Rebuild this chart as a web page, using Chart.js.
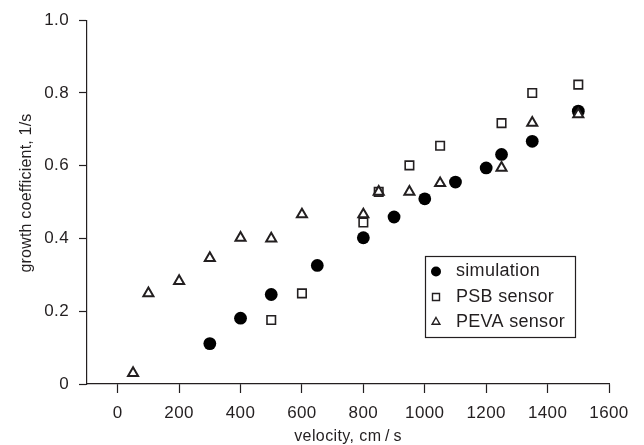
<!DOCTYPE html>
<html><head><meta charset="utf-8">
<script src="https://cdn.jsdelivr.net/npm/chart.js@4/dist/chart.umd.min.js"></script>
<style>html,body{margin:0;padding:0;background:#fff}#wrap{width:644px;height:445px}</style>
</head><body><div id="wrap"><canvas id="c" width="644" height="445"></canvas></div>
<script>
const simVelocity = [300, 400, 500, 650, 800, 900, 1000, 1100, 1200, 1250, 1350, 1500];
const simGrowth   = [0.111, 0.181, 0.246, 0.326, 0.402, 0.459, 0.509, 0.555, 0.594, 0.631, 0.667, 0.750];
const psbVelocity = [500, 600, 800, 850, 950, 1050, 1250, 1350, 1500];
const psbGrowth   = [0.176, 0.249, 0.444, 0.528, 0.601, 0.655, 0.717, 0.800, 0.823];
const pevaVelocity = [50, 100, 200, 300, 400, 500, 600, 800, 850, 950, 1050, 1250, 1350, 1500];
const pevaGrowth   = [0.030, 0.249, 0.283, 0.346, 0.402, 0.400, 0.466, 0.466, 0.528, 0.528, 0.552, 0.594, 0.718, 0.741];
const xTickValues = [0, 200, 400, 600, 800, 1000, 1200, 1400, 1600];
const yTickValues = [0, 0.2, 0.4, 0.6, 0.8, 1.0];
const seriesNames = ['simulation', 'PSB sensor', 'PEVA sensor'];
const xTitle = 'velocity, cm\u2009/\u2009s';
const yTitle = 'growth coefficient, 1/s';

const INK = '#231f20';
const FONT = '"Liberation Sans", Arial, Helvetica, sans-serif';

function pts(xs, ys) { return xs.map((x, i) => ({ x: x, y: ys[i] })); }

const spacingPlugin = {
  id: 'spacing',
  beforeInit(chart) { chart.ctx.letterSpacing = '0.4px'; },
  beforeUpdate(chart) { chart.ctx.letterSpacing = '0.4px'; },
  beforeDraw(chart) { chart.ctx.letterSpacing = '0.4px'; }
};

const yTitlePlugin = {
  id: 'yTitle',
  afterDraw(chart) {
    const ctx = chart.ctx;
    ctx.save();
    ctx.translate(27, 193);
    ctx.rotate(-Math.PI / 2);
    ctx.letterSpacing = '0.2px';
    ctx.font = '16px ' + FONT;
    ctx.fillStyle = INK;
    ctx.textAlign = 'center';
    ctx.textBaseline = 'middle';
    ctx.fillText(yTitle, 0, 0);
    ctx.restore();
  }
};

const legendPlugin = {
  id: 'boxLegend',
  afterDraw(chart) {
    const ctx = chart.ctx;
    const bx = 425.5, by = 256.5, bw = 150, bh = 81;
    ctx.save();
    ctx.fillStyle = '#fff';
    ctx.fillRect(bx, by, bw, bh);
    ctx.strokeStyle = INK;
    ctx.lineWidth = 1.2;
    ctx.strokeRect(bx, by, bw, bh);
    const rows = [271.5, 297, 322];
    const mx = 436;
    chart.data.datasets.forEach((ds, i) => {
      const y = rows[i];
      ctx.lineWidth = 1.4;
      ctx.strokeStyle = INK;
      ctx.fillStyle = ds.pointBackgroundColor;
      ctx.beginPath();
      if (ds.pointStyle === 'circle') {
        ctx.arc(mx, y, 5, 0, Math.PI * 2);
        ctx.fill();
      } else if (ds.pointStyle === 'rect') {
        ctx.rect(mx - 3.5, y - 3.5, 7, 7);
        ctx.fill(); ctx.stroke();
      } else {
        const r = 4.5;
        ctx.moveTo(mx, y - r);
        ctx.lineTo(mx + r * Math.sin(2 * Math.PI / 3), y - r * Math.cos(2 * Math.PI / 3));
        ctx.lineTo(mx + r * Math.sin(4 * Math.PI / 3), y - r * Math.cos(4 * Math.PI / 3));
        ctx.closePath();
        ctx.fill(); ctx.stroke();
      }
      ctx.fillStyle = INK;
      ctx.letterSpacing = '0.3px';
      ctx.font = '18px ' + FONT;
      ctx.textBaseline = 'middle';
      ctx.textAlign = 'left';
      ctx.fillText(ds.label, 456, y);
    });
    ctx.restore();
  }
};

new Chart(document.getElementById('c'), {
  type: 'scatter',
  data: {
    datasets: [
      { label: seriesNames[0], data: pts(simVelocity, simGrowth), pointStyle: 'circle', pointRadius: 6.4,
        pointBackgroundColor: '#000', pointBorderColor: '#000', pointBorderWidth: 0, order: 3 },
      { label: seriesNames[1], data: pts(psbVelocity, psbGrowth), pointStyle: 'rect', pointRadius: 6,
        pointBackgroundColor: '#fff', pointBorderColor: INK, pointBorderWidth: 1.6, order: 2 },
      { label: seriesNames[2], data: pts(pevaVelocity, pevaGrowth), pointStyle: 'triangle', pointRadius: 5.8,
        pointBackgroundColor: '#fff', pointBorderColor: INK, pointBorderWidth: 2, order: 1 }
    ]
  },
  options: {
    responsive: false,
    devicePixelRatio: 1,
    animation: false,
    layout: { padding: { top: 19, right: 35, left: 0, bottom: 0 } },
    plugins: { legend: { display: false }, tooltip: { enabled: false } },
    scales: {
      x: {
        type: 'linear', min: -100, max: 1600,
        afterBuildTicks: s => { s.ticks = xTickValues.map(v => ({ value: v })); },
        afterFit: s => { s.height = 61; },
        grid: { display: true, drawOnChartArea: false, drawTicks: true, tickLength: 9, tickColor: INK, tickWidth: 1.2 },
        border: { display: true, color: INK, width: 1.2 },
        ticks: { color: INK, font: { family: FONT, size: 17 }, padding: 10, maxRotation: 0, autoSkip: false,
                 callback: v => String(v) },
        title: { display: true, text: xTitle, color: INK, font: { family: FONT, size: 16, lineHeight: 1.0 }, padding: { top: 0, bottom: 0 } }
      },
      y: {
        type: 'linear', min: 0, max: 1.0,
        afterBuildTicks: s => { s.ticks = yTickValues.map(v => ({ value: v })); },
        afterFit: s => { s.width = 87; },
        grid: { display: true, drawOnChartArea: false, drawTicks: true, tickLength: 8, tickColor: INK, tickWidth: 1.2 },
        border: { display: true, color: INK, width: 1.2 },
        ticks: { color: INK, font: { family: FONT, size: 17 }, padding: 10, autoSkip: false,
                 callback: v => (v === 0 ? '0' : v.toFixed(1)) },
        title: { display: false }
      }
    }
  },
  plugins: [spacingPlugin, yTitlePlugin, legendPlugin]
});
</script></body></html>
